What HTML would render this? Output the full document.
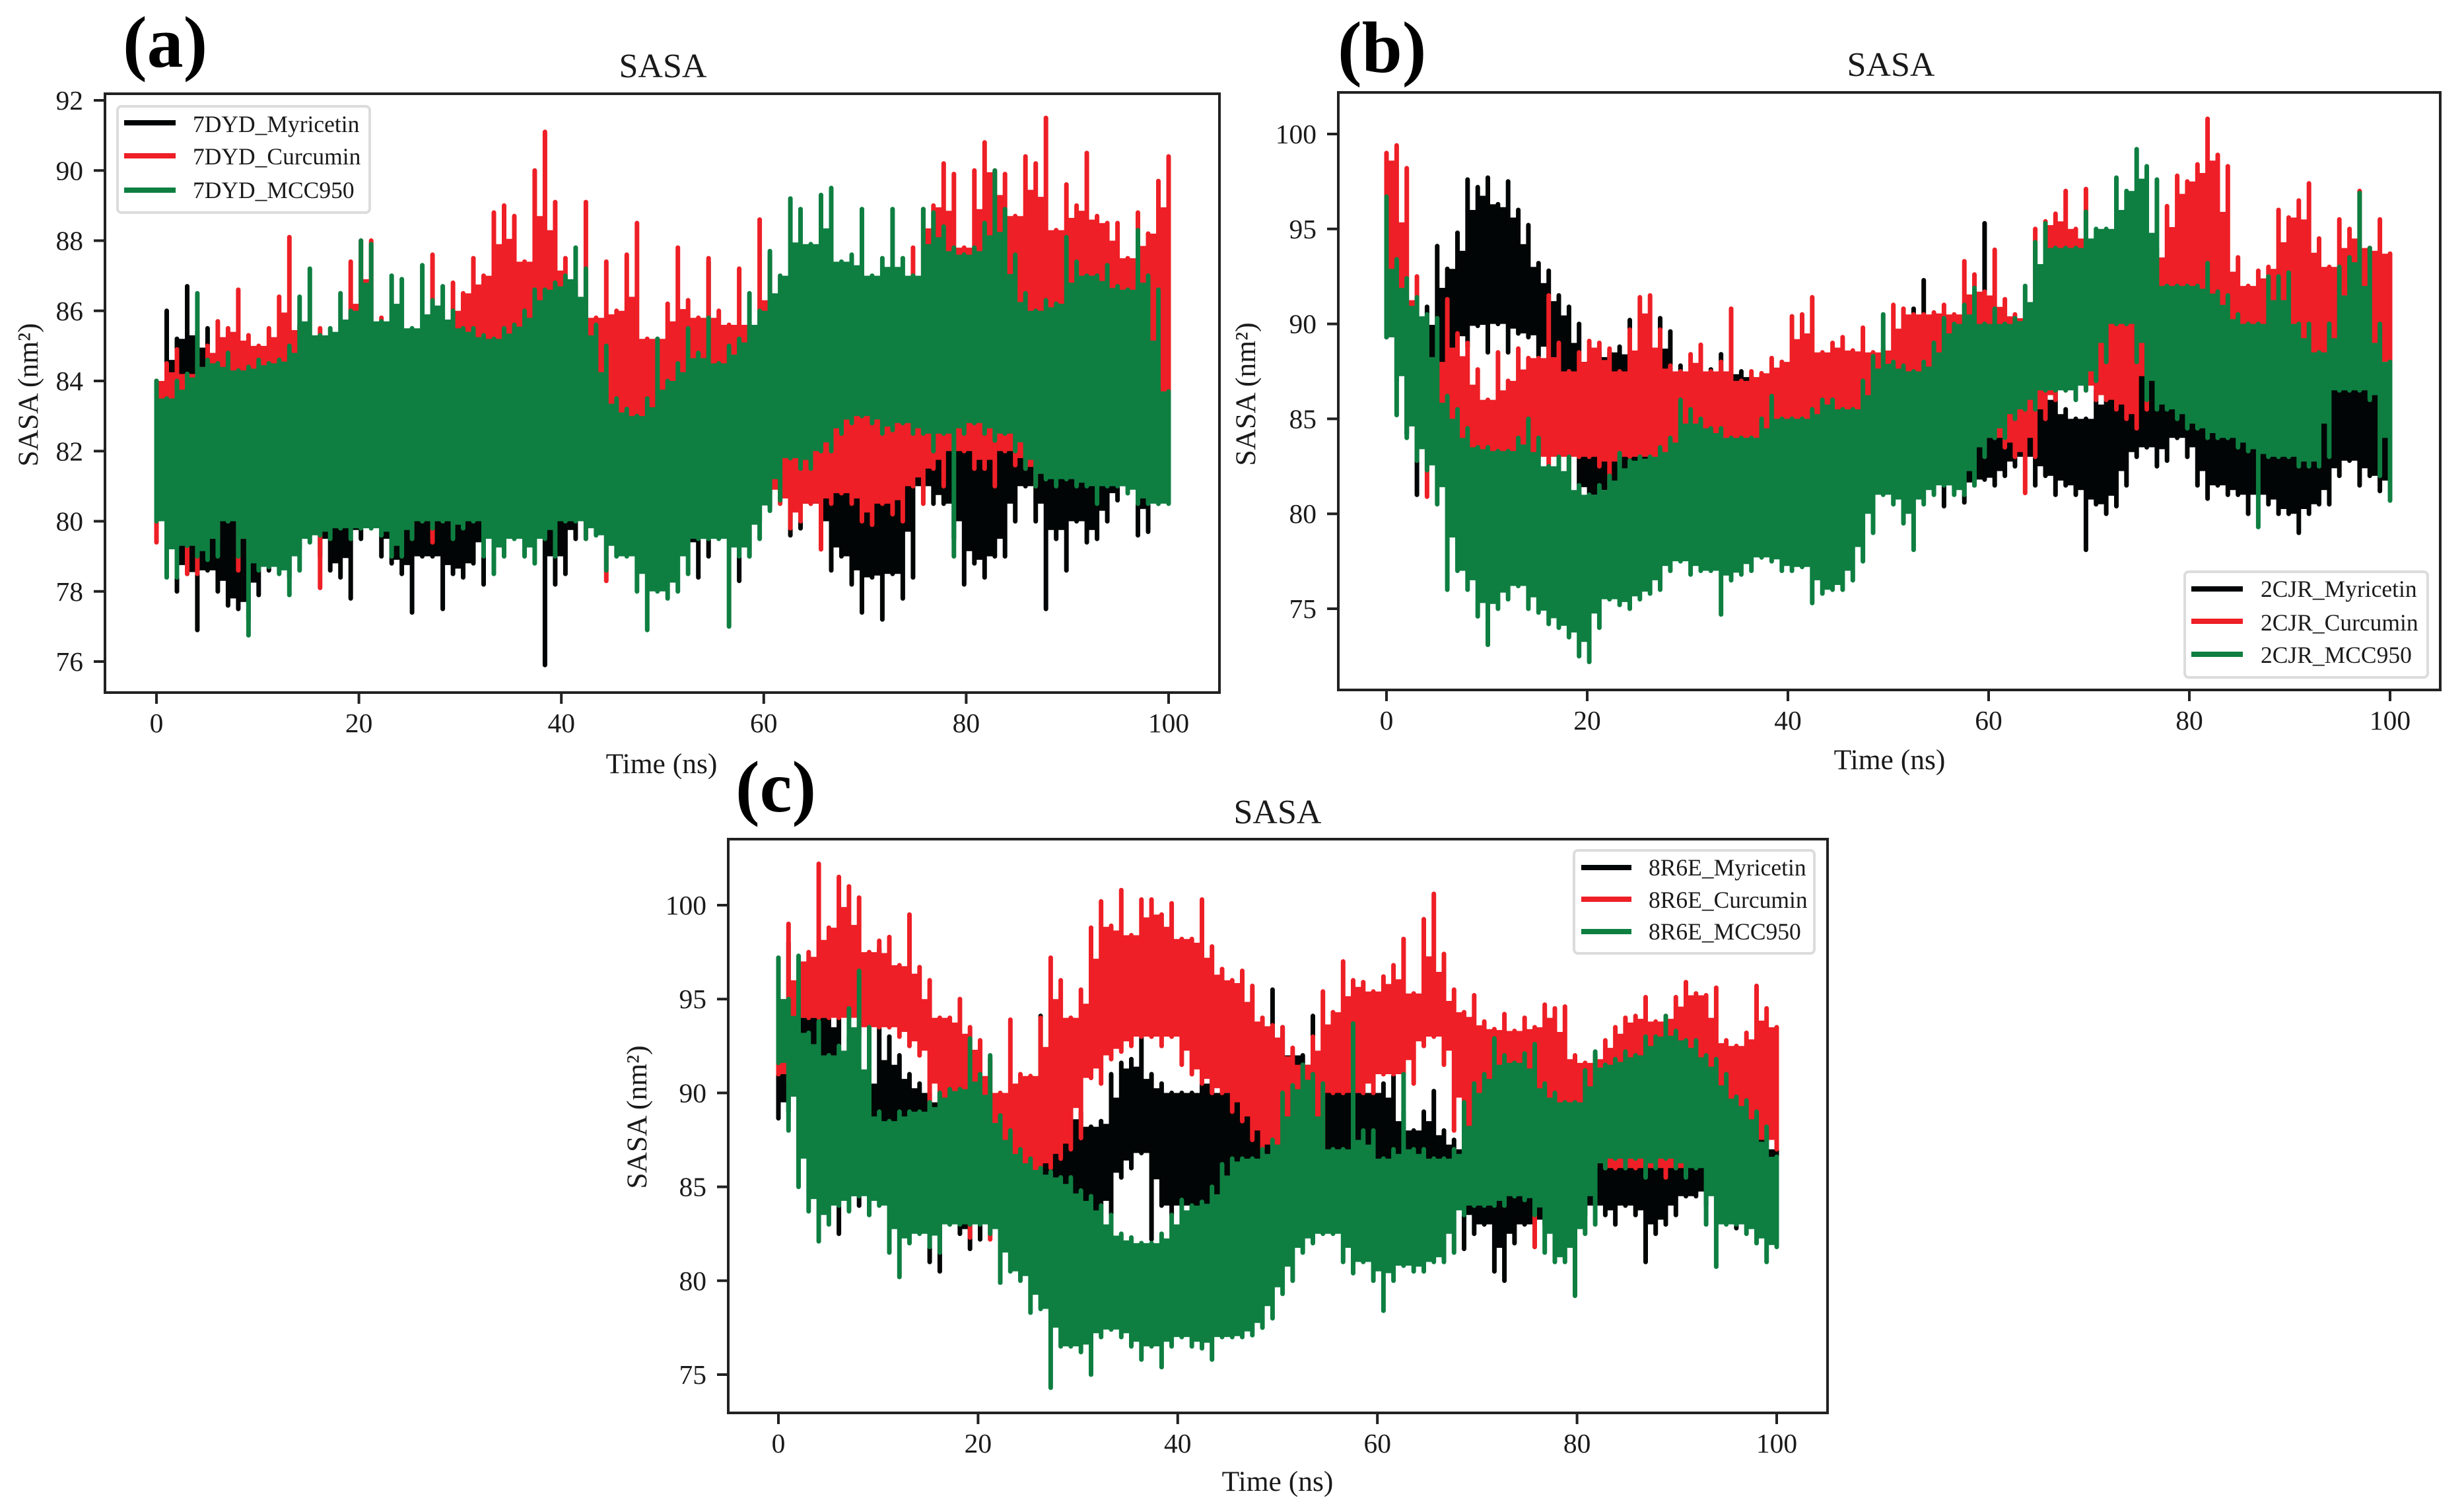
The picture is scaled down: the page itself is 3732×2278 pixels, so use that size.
<!DOCTYPE html>
<html lang="en">
<head>
<meta charset="utf-8">
<title>SASA panels</title>
<style>
html,body{margin:0;padding:0;background:#fff;}
svg{display:block;}
text{font-family:"Liberation Serif",serif;fill:#1a1a1a;}
.tick{font-size:41.5px;}
.axis{font-size:43.5px;}
.title{font-size:52px;text-anchor:middle;}
.panel{font-size:110px;font-weight:bold;fill:#000;}
.leg{font-size:35.5px;}
.spine{fill:none;stroke:#222;stroke-width:4;}
.legbox{fill:#fff;stroke:#dcdcdc;stroke-width:4;}
</style>
</head>
<body>
<svg id="fig" xmlns="http://www.w3.org/2000/svg" width="3732" height="2278" viewBox="0 0 3732 2278">
<rect width="3732" height="2278" fill="#fff"/>

<g id="pa">
<text class="panel" x="186" y="101">(a)</text>
<text class="title" x="1004" y="117">SASA</text>
<text class="axis" x="1002" y="1171" text-anchor="middle">Time (ns)</text>
<text class="axis" transform="translate(57,598) rotate(-90)" text-anchor="middle">SASA (nm²)</text>
<g id="pa-marks"></g>
<rect class="spine" x="159" y="142" width="1688" height="907"/>
<g id="pa-ticks"></g>
<g>
<rect class="legbox" x="178" y="161" width="382" height="161" rx="6"/>
<line x1="188" x2="266" y1="186" y2="186" stroke="#020505" stroke-width="8"/>
<text class="leg" x="292" y="200">7DYD_Myricetin</text>
<line x1="188" x2="266" y1="236" y2="236" stroke="#ee1f26" stroke-width="8"/>
<text class="leg" x="292" y="249">7DYD_Curcumin</text>
<line x1="188" x2="266" y1="288" y2="288" stroke="#0e7f41" stroke-width="8"/>
<text class="leg" x="292" y="300">7DYD_MCC950</text>
</g>
</g>

<g id="pb">
<text class="panel" x="2026" y="109">(b)</text>
<text class="title" x="2864" y="115">SASA</text>
<text class="axis" x="2862" y="1165" text-anchor="middle">Time (ns)</text>
<text class="axis" transform="translate(1901,597) rotate(-90)" text-anchor="middle">SASA (nm²)</text>
<g id="pb-marks"></g>
<rect class="spine" x="2027" y="140" width="1669" height="905"/>
<g id="pb-ticks"></g>
<g>
<rect class="legbox" x="3309" y="866" width="368" height="160" rx="6"/>
<line x1="3319" x2="3397" y1="892" y2="892" stroke="#020505" stroke-width="8"/>
<text class="leg" x="3424" y="904">2CJR_Myricetin</text>
<line x1="3319" x2="3397" y1="941" y2="941" stroke="#ee1f26" stroke-width="8"/>
<text class="leg" x="3424" y="955">2CJR_Curcumin</text>
<line x1="3319" x2="3397" y1="991" y2="991" stroke="#0e7f41" stroke-width="8"/>
<text class="leg" x="3424" y="1004">2CJR_MCC950</text>
</g>
</g>

<g id="pc">
<text class="panel" x="1114" y="1229">(c)</text>
<text class="title" x="1935" y="1247">SASA</text>
<text class="axis" x="1935" y="2258" text-anchor="middle">Time (ns)</text>
<text class="axis" transform="translate(979,1692) rotate(-90)" text-anchor="middle">SASA (nm²)</text>
<g id="pc-marks"></g>
<rect class="spine" x="1103" y="1271" width="1665" height="869"/>
<g id="pc-ticks"></g>
<g>
<rect class="legbox" x="2384" y="1288" width="364" height="156" rx="6"/>
<line x1="2395" x2="2471" y1="1314" y2="1314" stroke="#020505" stroke-width="8"/>
<text class="leg" x="2497" y="1326">8R6E_Myricetin</text>
<line x1="2395" x2="2471" y1="1362" y2="1362" stroke="#ee1f26" stroke-width="8"/>
<text class="leg" x="2497" y="1375">8R6E_Curcumin</text>
<line x1="2395" x2="2471" y1="1411" y2="1411" stroke="#0e7f41" stroke-width="8"/>
<text class="leg" x="2497" y="1423">8R6E_MCC950</text>
</g>
</g>
</svg>

<script>
// Shared tick labels
var xTicks = [0,20,40,60,80,100];
var aYTicks = [76,78,80,82,84,86,88,90,92];
var bYTicks = [75,80,85,90,95,100];
var cYTicks = [75,80,85,90,95,100];

// SASA (nm²): high, low reading of each ~1 ns window over 0-100 ns
var a7dydMyricetin = [
84,80.2,86,79,85.2,78,86.7,78.5,85.4,76.9,85.5,78.6,84.5,78,83.9,77.6,84.2,77.5,84.6,77.2,
84,77.9,83.5,78.6,83.6,79,83.8,78.4,84,79.2,83.5,80,83.2,79,84,78.6,84.2,78.4,83.6,77.8,
84,79.5,83.5,80,84.1,79,83.8,78.8,84,78.5,83.6,77.4,84.2,79,84,79,83.5,77.5,84,78.5,
84.5,78.4,84.3,78.8,84.2,78.2,84.6,80,85,79.6,84.5,80,85.5,80,85.6,79.8,86,75.9,85.8,78.2,
86.9,78.5,85,79.5,84.6,80,84,80.4,83.8,80.2,84,80,83.6,80,83.8,79.8,84,78.6,84.2,78.2,
84,79,84,79.2,84.2,79.4,84.5,78.4,87.4,79,84.5,80,84,79.5,84.5,78.3,84.6,79,85,80,
85,80.4,84.5,81,84.2,79.6,84.5,79.8,84,80.5,84,79.5,83.6,78.6,83.5,79,83.4,78.2,83.8,77.4,
83.5,78.4,83.5,77.2,83,78.5,83,77.8,83,78.4,83.2,81,83.5,80.5,84,80.5,83.5,79.5,83.3,78.2,
83.4,78.8,83.5,78.4,83,79,83.2,79,83.2,80,83.5,81,83.8,80,83.5,77.5,83.5,79.5,83.3,78.6,
84,80,84,79.4,83.6,79.5,83.8,80,83.8,80.6,83.5,81,84,79.6,83.8,79.7,83.5,80.5,85.5,82.8];
var a7dydCurcumin = [
84,79.4,84.5,80,84.9,80.5,84.2,78.5,84.6,78.5,85,80,85.7,79.5,85.5,80,86.6,78.6,85.3,79,
85,79.5,85.5,80,86.4,80,88.1,80,85.6,80.5,85.3,81,85.5,78.1,85,80.5,85,80.5,87.4,80.3,
88,80.5,88,80,85.8,80.4,85,80,85.2,80.5,85,79.5,85.3,80,87.6,79.4,85.5,80,86.8,79.8,
86.5,80.5,87.5,80.5,87,81,88.8,81,89,80.5,88.7,81,87.4,81.5,90,81,91.1,80.5,89.1,81,
87.5,80.8,86.8,80.5,89.1,79.5,85.8,80.2,87.4,78.3,86,80,87.6,81,88.5,81,85.2,80.5,85.2,81.5,
86.2,80.5,87.8,80.6,86.3,80.5,85.8,81,87.5,81,86,81,85.6,81,87.2,81,85.6,81,88.6,81,
87.6,80.8,85,80.5,85,79.8,85,80,84.8,80.5,85,79.2,84.6,80.5,84.8,80.8,84.6,80.5,85,80,
85.3,79.9,85,80.5,85,80.2,85,80,87.8,81,88.9,80.5,89,81.5,90.2,81,89.9,82,87.8,82,
90,81.5,90.8,81.5,90,81,89.9,82,88.7,81.6,90.4,81.5,90.2,81,91.5,81.5,88.3,81.5,89.6,81.5,
89,81.5,90.5,81.5,88.7,82,88.5,81.5,88.5,81.5,87.5,81.5,88.8,81.5,88.2,81.5,89.7,81.5,90.4,81.8];
var a7dydMcc950 = [
84,80,83.5,78.4,84,78.4,84.2,79.3,86.5,79,84.6,78.9,84.5,79,84.8,80,84.3,79,84.4,76.75,
84.6,78.6,84.5,78.7,84.6,78.5,85,77.9,86.4,78.6,87.2,79.4,85.3,79.6,85.5,79.5,86.5,79.8,86,79.5,
88,79.8,87.9,79.8,85.7,79.6,87,79,86.9,79,85.5,79.5,87.3,80,86.3,79.8,86.7,80,86,79.5,
85.5,79.8,85.5,80,85.3,79,85.2,78.5,85.5,79,85.6,79.5,86,79,86.6,78.8,86.6,79.5,86.8,79,
87,80,87.8,80,87.2,79.5,85.6,79.6,85,78.6,83.5,79,83.2,79,83,78,83.5,76.9,85.2,78,
84,77.8,84.5,78,85.5,78.5,84.8,79.5,85.8,79.5,84.5,79.5,85,77,85.2,79,86.5,79,86,79.5,
87.7,80.3,87,80.6,89.2,81.8,88.9,81.5,87.9,81.5,89.3,82,89.5,82,87.4,82.5,87.6,82.8,88.9,83,
87,82.8,87.5,82.5,88.9,82.6,87.5,82.8,87,82.5,88.9,82.5,88.8,82,88.4,82.5,87.8,79,87.6,82.5,
87.8,82.8,88.5,82.5,90,82.3,88.9,82.5,87.6,82,86.5,81.5,86,81,86.3,81.2,86.2,81,88.1,81.2,
87.4,81,87,81,87,80.5,87.3,81,86.7,81,86.6,80.8,88.3,80.5,87,80.5,86.6,80.5,83.7,80.5];

var b2cjrMyricetin = [
92.7,89.3,92,87,89.7,84.2,89,81,90.9,84,94.1,84.5,92.9,85,94.8,87,97.6,88.8,97.2,89.9,
97.7,88.5,96.3,90,97.5,88.5,96,89.5,95.2,89.3,93.2,88.3,92.8,86,91.5,85.5,90.9,82.3,90,80,
88,80.5,88.5,81,88.5,80,88.8,81.5,90.2,81.5,88,82,88,82.5,90.3,83,89.6,81,87.8,81.5,
87,82.5,87.3,83,87.6,82,88.4,82.5,87.5,82,87.5,83,87.2,82,87.2,82.5,87,83,86.8,82.5,
85.5,82.5,85.5,81.5,86,82,86,81.5,85.5,81.5,85.5,82,85.5,81.5,85,81,85,81.5,84,82,
84,81.5,89,82,90.8,81.8,92.3,82,88.5,81.5,88,80.4,88,81.5,88,80.6,92,81.5,95.3,81.8,
90,81.5,89,82,88,82.5,88,83,87.5,81.5,88,82,86.5,81,85.5,81.5,85,81,85,78.1,
86.5,80.5,87,80,87.5,80.4,88,81.5,91,83,88.5,83.5,89,82.5,88,82.8,88,84,88,83,
88,81.5,88,80.8,88,81.5,87.5,81,87.5,81,87.5,80,87.5,81,87.5,80.5,87.5,80,87.5,80,
87,79,87.5,80,87,80.5,87,80.5,87.8,82,89,82.8,89,81.5,88.5,82,87.5,81.2,87.5,81.5];
var b2cjrCurcumin = [
99,90,99.4,90.5,98.2,89,92.5,84,90,80.9,88,83.5,91.3,82.5,89.5,82.5,89,81.5,87.6,82,
86,82,88.5,81.8,87,82.5,88.7,83,88.2,82.5,88.2,83,91.5,82.5,89,83,87.5,81.6,88.5,83,
89.1,83,89,82.5,88.7,81,87.5,82.5,89.7,83,91.4,83,91.5,82.5,89.7,82.5,87.8,82,87.5,79,
88.4,82.5,88.9,83,87.5,83,88,82.5,90.8,82.5,87,82.5,87.5,82.5,87.4,82.5,88.2,83,88,83.5,
90.4,83.5,90.5,84,91.4,83,88.5,83,89,83,89.3,83,88.6,82.5,89.8,82.5,88.5,83,88.7,83.5,
91,84,90.8,84,90.5,83.5,90.5,84,90.6,83.5,91,83.5,90.5,83.5,93.3,84.5,92.6,84,91.7,83.5,
93.9,84,91.3,83.5,90.5,83,90.3,81.1,95,83,95.4,85,95.8,86,97,86.5,95,87,97.1,86.5,
94,86,93,86,92,85.5,91.5,85,93,84.5,93,85.5,94,89,96.2,89,97.8,90,97.5,90,
98.4,90.5,100.8,90.5,98.9,90,98.3,90,93.5,89,92,88,92.8,87,93,86.5,96,87,95.6,87,
96.5,87.5,97.4,87.5,94.5,87,93,87.5,95.5,88.5,95,88.3,97,88,94,88,95.5,88,93.7,87.8];
var b2cjrMcc950 = [
96.7,89.3,93.4,85.2,92.4,84,91.4,82.8,90.5,82.3,90.3,80.5,86.2,76,85.5,77,84.5,76,83.5,74.6,
83.5,73.1,83.3,75,83.3,75.5,84,76.2,85,75,84,74.8,82.5,74.2,83,74,83,73.5,81.5,72.5,
81,72.2,81.5,74,82,75.5,83.2,75.2,82.8,75,83,75.5,83,75.8,83.5,76,84,77,86,77.5,
85.5,76.8,85,77,84.5,77,84.5,74.7,84,76.5,84,76.8,84,77,85,77.7,86.2,77.5,85,77,
85,77,85,77.2,85.5,75.3,86,75.8,86,76,85.5,76,85.5,76.5,87,77.5,88.3,79,90.5,81,
88,80.5,87.8,79.5,87.5,78.1,88,80.5,89,81,90.3,81.5,90,81,91,81,91.9,81.5,90,83,
90.8,84,90,84,90.3,85,92,85.5,94.3,85.5,95.3,86.5,94,86.5,94,86.5,94,86,95.9,86.5,
95,87,95,88,97.7,90,97,90,99.2,88,98.3,86,97.6,85.5,92,85.5,92,85,92,84.5,
92,84.5,93.2,84,91.7,84,91.5,84,90.5,83.5,90,83.3,90,79.3,92.5,83,92.5,83,92.7,83,
90,82.5,90,82.5,88.5,82.5,90,83,93,86.5,93.5,86.5,96.9,86.5,94,86,90,82,88,80.7];

var c8r6eMyricetin = [
91.6,88.65,98,89,96,90,94,88.5,94,86.2,94,85.5,94,82.5,93,84.5,91,84,90.5,84.5,
97.7,85,93,84,92,85,91,84,90.5,84,90,81,90,80.5,89,83,89,82.5,89,81.7,
89,82.2,88.5,84,88,79.9,88,84,90.8,85,90.5,85,94.1,85,90,84.5,89.5,83,89.7,82,
89,81.8,88.2,81.5,88.5,82.5,91,83,91.6,85.5,91.8,86,93.6,86.8,91,82.2,90.5,84,90,83.5,
90,84,90,83.5,92.2,84,91,84,90,82.8,90,83.5,90.6,84.2,90,84.5,90,85,95.5,85.5,
93.5,85.5,92,85,92,85,94.1,85,91,85,92.5,85,91,85,94.6,85,90,85,90,85,
90.5,85,90.9,84,89,84.5,88,85,89,85,90.1,85,88,85,87.5,84.5,87,81.7,87,82.5,
87,83,86.5,80.5,86,80,86,82,86,83,85.5,82.5,85,83,85,83.5,85,84,85,84,
88,83.5,92,84,90.6,83.5,88,83,87,84,86.5,83.5,86.5,81,87,82.5,86.5,83,86.5,83.5,
87,84.5,86.5,84.5,87,84,87,85,87.5,84,88,82.8,89,84,93.5,85,89,86,87,86.5];
var c8r6eCurcumin = [
95,91,99,90.5,97,91,97.5,94,102.2,94,98.8,94,101.5,94,101,94,100.4,93,97.5,93,
98.1,93.5,98.3,93.5,96.8,93,99.5,92.5,96.7,92,96,89,94,88.5,94,88,95,86,93.5,82.3,
92.8,85,91.8,82.2,90,85.5,93.9,86,91,86,90.9,85,94,85.5,97.2,86,96,86.5,94,87,
95.5,87.6,98.8,90.8,100.2,90.5,98.9,91.8,100.8,92.2,98.4,92.5,100.3,93,100.3,93,99.5,92.5,100.1,93,
98.2,91.5,98.2,91,100.3,90.5,97.8,90,96.6,90,96,89,96.5,88.5,95.7,87.5,94,87,93.6,86.5,
93.5,87,92.4,86.5,91.5,86.5,93,87,95.4,87,94.3,90,97,90,96,90,95.9,90,95.4,90,
96.2,91,96.8,91,98.2,91,95.3,90.5,99.25,92.5,100.6,93,97.4,91.5,95.5,88,94.3,88,95.2,87.5,
93.8,87.5,93.4,86,94.2,86,93.3,85.5,94,85,93.5,81.8,94.7,85,94.5,85,94.6,85.5,92,86.5,
91.6,87,92,86,92.8,86,93.5,86,94,86,94.1,86,95.1,86,93.8,86,94.1,85.5,95.1,86,
95.9,86,95.3,86,95.2,86.5,95.6,87,92.8,87.5,92.5,87,93.2,87.5,95.7,87,94.5,87.5,93.5,87];
var c8r6eMcc950 = [
97.2,91.6,95,88,97.3,85,93.2,83.7,93.8,82.1,92,83,92.5,84,94.5,83.7,96.5,84.5,93.5,83.5,
89,84,88.5,81.5,89,80.2,89,82,89,82.5,89.5,81.8,90,81.5,90.2,83,90.2,83,92.9,83,
91,83,92,82.5,88.8,79.9,88,80.5,87,80,86.5,78.3,86,78.5,85.8,74.3,85.5,76.5,85.5,76.5,
84.8,76.2,84.5,75,84,77,83.5,77.4,82.5,77,82.3,76.5,82,75.8,82,76.5,82.5,75.4,83.5,76.5,
84.3,77,84,76.5,84.2,76.4,85,75.8,86.2,77,86.5,77,86.5,77,86.5,77.1,87,77.5,87.5,78,
90,79.3,90.4,80,91.5,81.5,91,82,90.5,82.5,87,82.5,87,81,93.7,80.4,88,81,88,80,
86.5,78.4,87,80,91,80.8,87,80.5,87,80.5,86.5,81,86.5,81,87,81.5,89.5,83.5,90.5,84,
91,84,92.9,84,92,84,91.6,84.5,92.1,84.3,92.6,83.5,90.5,81.5,90,81,89.5,81,89.5,79.2,
91.2,82.5,92.2,83,91.5,86,91.8,86.5,92.2,86,92,86.5,93,85.5,93,86,94.1,86.5,93.3,86,
92.8,85.5,92.8,86,92,83,91.8,80.75,91,83,89.8,83,89.6,82.5,89,82,88.2,81,86.6,81.8];

var NS = 'http://www.w3.org/2000/svg';
var seriesColors = ['#020505', '#ee1f26', '#0e7f41'];
var seriesKinds = ['myricetin', 'curcumin', 'mcc950'];

// Linear axis function: maps a data value between two calibrated pixel anchors
function scale(v0, p0, v1, p1) {
  return function (v) { return p0 + (v - v0) * (p1 - p0) / (v1 - v0); };
}

function drawPanel(id, series, yTicks, xs, ys, bottom, left) {
  var marks = document.getElementById(id + '-marks');
  var ticks = document.getElementById(id + '-ticks');
  series.forEach(function (vals, s) {
    var n = vals.length / 2;
    var hi = function (k) { return vals[2 * Math.max(0, Math.min(n - 1, k))]; };
    var lo = function (k) { return vals[2 * Math.max(0, Math.min(n - 1, k)) + 1]; };
    var tOf = function (k) { return k / (n - 1) * 100; };
    // solid band of the dense trajectory: neighbouring readings overlap between strokes
    var top = '', bot = '';
    for (var k = 0; k < n - 1; k++) {
      var x0 = xs(tOf(k)).toFixed(1);
      var x1 = xs(tOf(k + 1)).toFixed(1);
      var uNear = Math.min(hi(k), hi(k + 1));
      var uWide = Math.min(hi(k - 1), uNear, hi(k + 2));
      var lNear = Math.max(lo(k), lo(k + 1));
      var lWide = Math.max(lo(k - 1), lNear, lo(k + 2));
      var u = ys((uNear + uWide) / 2).toFixed(1);
      var l = ys((lNear + lWide) / 2).toFixed(1);
      top += (k ? 'L' : 'M') + x0 + ' ' + u + 'L' + x1 + ' ' + u;
      bot = 'L' + x1 + ' ' + l + 'L' + x0 + ' ' + l + bot;
    }
    var band = document.createElementNS(NS, 'path');
    band.setAttribute('d', top + bot + 'Z');
    band.setAttribute('fill', seriesColors[s]);
    
    
    marks.appendChild(band);
    // excursion of each window, drawn as a vertical stroke
    var d = '';
    for (var j = 0; j < n; j++) {
      var x = xs(tOf(j)).toFixed(1);
      d += 'M' + x + ' ' + ys(hi(j)).toFixed(1) + 'L' + x + ' ' + ys(lo(j)).toFixed(1);
    }
    var p = document.createElementNS(NS, 'path');
    p.setAttribute('d', d);
    p.setAttribute('fill', 'none');
    p.setAttribute('stroke', seriesColors[s]);
    p.setAttribute('stroke-width', '7');
    p.setAttribute('stroke-linecap', 'round');
    
    
    marks.appendChild(p);
  });
  xTicks.forEach(function (v) {
    var m = document.createElementNS(NS, 'line');
    m.setAttribute('x1', xs(v)); m.setAttribute('x2', xs(v));
    m.setAttribute('y1', bottom); m.setAttribute('y2', bottom + 17);
    m.setAttribute('stroke', '#222'); m.setAttribute('stroke-width', '4');
    
    
    ticks.appendChild(m);
    var l = document.createElementNS(NS, 'text');
    l.setAttribute('class', 'tick');
    l.setAttribute('x', xs(v)); l.setAttribute('y', bottom + 60);
    l.setAttribute('text-anchor', 'middle');
    l.textContent = String(v);
    
    
    ticks.appendChild(l);
  });
  yTicks.forEach(function (v) {
    var m = document.createElementNS(NS, 'line');
    m.setAttribute('x1', left - 17); m.setAttribute('x2', left);
    m.setAttribute('y1', ys(v)); m.setAttribute('y2', ys(v));
    m.setAttribute('stroke', '#222'); m.setAttribute('stroke-width', '4');
    
    
    ticks.appendChild(m);
    var l = document.createElementNS(NS, 'text');
    l.setAttribute('class', 'tick');
    l.setAttribute('x', left - 33); l.setAttribute('y', ys(v) + 14);
    l.setAttribute('text-anchor', 'end');
    l.textContent = String(v);
    
    
    ticks.appendChild(l);
  });
}

drawPanel('pa', [a7dydMyricetin, a7dydCurcumin, a7dydMcc950], aYTicks,
  scale(0, 237, 100, 1770), scale(92, 152, 76, 1002), 1049, 159);
drawPanel('pb', [b2cjrMyricetin, b2cjrCurcumin, b2cjrMcc950], bYTicks,
  scale(0, 2100, 100, 3620), scale(100, 203, 75, 922), 1045, 2027);
drawPanel('pc', [c8r6eMyricetin, c8r6eCurcumin, c8r6eMcc950], cYTicks,
  scale(0, 1179, 100, 2691), scale(100, 1371, 75, 2082), 2140, 1103);
</script>
</body>
</html>
